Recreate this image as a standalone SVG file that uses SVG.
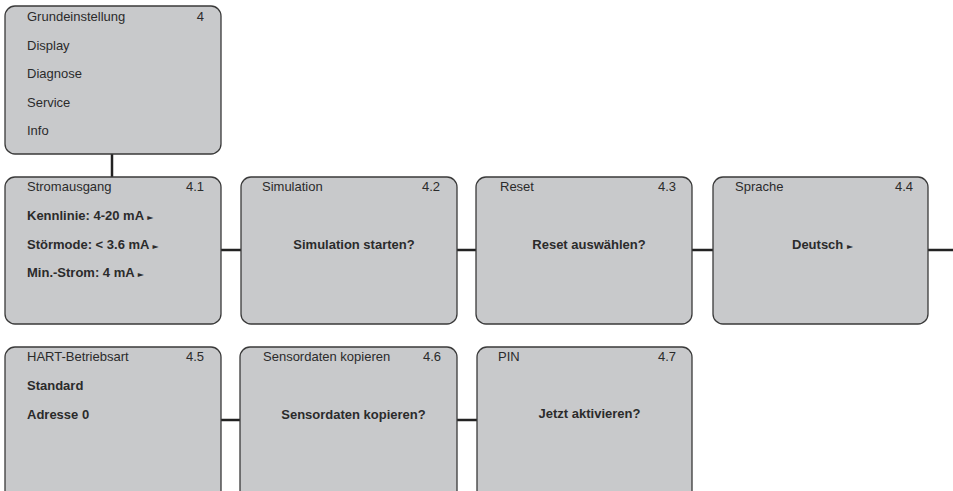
<svg xmlns="http://www.w3.org/2000/svg" width="953" height="491" viewBox="0 0 953 491">
<style>
.box{fill:#c8c9cb;stroke:#3a3a3a;stroke-width:1.3}
.t{font-family:"Liberation Sans",Arial,sans-serif;font-size:13px;fill:#2b2b2b}
.b{font-weight:bold}
.r{text-anchor:end}
.c{text-anchor:middle}
.ar{font-family:"DejaVu Sans",sans-serif;font-size:8px;fill:#2b2b2b}
.con{stroke:#222;stroke-width:2.5;fill:none}
</style>
<rect width="953" height="491" fill="#fff"/>
<g id="connectors">
<line class="con" x1="112" y1="154" x2="112" y2="177"/>
<line class="con" x1="221" y1="250" x2="241" y2="250"/>
<line class="con" x1="457" y1="250" x2="476" y2="250"/>
<line class="con" x1="692" y1="250" x2="713" y2="250"/>
<line class="con" x1="928" y1="250" x2="953" y2="250"/>
<line class="con" x1="221" y1="420" x2="240" y2="420"/>
<line class="con" x1="457" y1="420" x2="477" y2="420"/>
</g>
<g id="n4">
<rect class="box" x="5" y="6" width="216" height="148" rx="10"/>
<text class="t" x="27" y="21">Grundeinstellung</text>
<text class="t r" x="204" y="21">4</text>
<text class="t" x="27" y="50">Display</text>
<text class="t" x="27" y="78">Diagnose</text>
<text class="t" x="27" y="107">Service</text>
<text class="t" x="27" y="135">Info</text>
</g>
<g id="n41">
<rect class="box" x="5" y="177" width="216" height="147" rx="10"/>
<text class="t" x="27" y="191">Stromausgang</text>
<text class="t r" x="204" y="191">4.1</text>
<text class="t b" x="27" y="220">Kennlinie: 4-20 mA <tspan class="ar">►</tspan></text>
<text class="t b" x="27" y="249">Störmode: &lt; 3.6 mA <tspan class="ar">►</tspan></text>
<text class="t b" x="27" y="277">Min.-Strom: 4 mA <tspan class="ar">►</tspan></text>
</g>
<g id="n42">
<rect class="box" x="241" y="177" width="216" height="147" rx="10"/>
<text class="t" x="262" y="191">Simulation</text>
<text class="t r" x="440" y="191">4.2</text>
<text class="t b c" x="354" y="249">Simulation starten?</text>
</g>
<g id="n43">
<rect class="box" x="476" y="177" width="216" height="147" rx="10"/>
<text class="t" x="500" y="191">Reset</text>
<text class="t r" x="676" y="191">4.3</text>
<text class="t b c" x="589" y="249">Reset auswählen?</text>
</g>
<g id="n44">
<rect class="box" x="713" y="177" width="215" height="147" rx="10"/>
<text class="t" x="735" y="191">Sprache</text>
<text class="t r" x="913" y="191">4.4</text>
<text class="t b" x="792" y="249">Deutsch <tspan class="ar">►</tspan></text>
</g>
<g id="n45">
<rect class="box" x="5" y="347" width="216" height="160" rx="10"/>
<text class="t" x="27" y="361">HART-Betriebsart</text>
<text class="t r" x="204" y="361">4.5</text>
<text class="t b" x="27" y="390">Standard</text>
<text class="t b" x="27" y="419">Adresse 0</text>
</g>
<g id="n46">
<rect class="box" x="240" y="347" width="217" height="160" rx="10"/>
<text class="t" x="263" y="361">Sensordaten kopieren</text>
<text class="t r" x="441" y="361">4.6</text>
<text class="t b c" x="353.5" y="419">Sensordaten kopieren?</text>
</g>
<g id="n47">
<rect class="box" x="477" y="347" width="215" height="160" rx="10"/>
<text class="t" x="498" y="361">PIN</text>
<text class="t r" x="676" y="361">4.7</text>
<text class="t b c" x="589.5" y="418">Jetzt aktivieren?</text>
</g>
</svg>
